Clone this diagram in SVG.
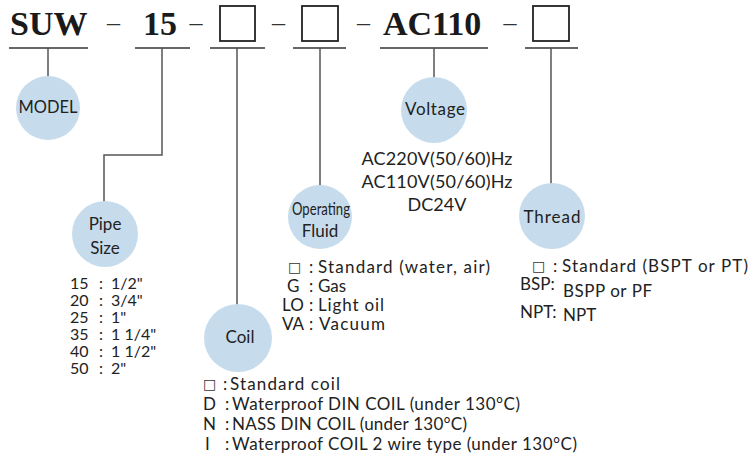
<svg xmlns="http://www.w3.org/2000/svg" width="752" height="460" viewBox="0 0 752 460">
  <style>
    .hd { font-family: "Liberation Serif", serif; font-weight: bold; font-size: 34px; fill: #1a1a1a; }
    .dash { font-family: "Liberation Serif", serif; font-size: 26px; fill: #333; text-anchor: middle; }
    .box { fill: #fff; stroke: #222; stroke-width: 1.8; }
    .ul { stroke: #333; stroke-width: 1.3; fill: none; }
    .bub { fill: #c6dcec; }
    .lb { font-family: Lato, "DejaVu Sans", sans-serif; font-size: 17px; fill: #222; text-anchor: middle; }
    .tx { font-family: Lato, "DejaVu Sans", sans-serif; font-size: 17px; fill: #222; }
    .px { font-family: Lato, "DejaVu Sans", sans-serif; font-size: 16px; fill: #222; }
    .vt { font-family: Lato, "DejaVu Sans", sans-serif; font-size: 18px; fill: #222; text-anchor: middle; }
    .sq { font-family: "DejaVu Sans", sans-serif; font-size: 14px; fill: #333; }
    .conn { stroke: #555; stroke-width: 1.5; fill: none; }
  </style>

  <g id="header">
    <text class="hd" x="10" y="35">SUW</text>
    <text class="dash" x="113.5" y="31">–</text>
    <text class="hd" x="143" y="35">15</text>
    <text class="dash" x="196" y="31">–</text>
    <rect class="box" x="220" y="6" width="35" height="35"/>
    <text class="dash" x="278.5" y="31">–</text>
    <rect class="box" x="302" y="6" width="36" height="35"/>
    <text class="dash" x="363.5" y="31">–</text>
    <text class="hd" x="383" y="35">AC110</text>
    <text class="dash" x="510" y="31">–</text>
    <rect class="box" x="533" y="6" width="36" height="35"/>
    <line class="ul" x1="9" y1="48" x2="88" y2="48"/>
    <line class="ul" x1="135" y1="48" x2="190" y2="48"/>
    <line class="ul" x1="210" y1="48" x2="265" y2="48"/>
    <line class="ul" x1="293" y1="48" x2="346" y2="48"/>
    <line class="ul" x1="380" y1="48" x2="488" y2="48"/>
    <line class="ul" x1="525" y1="48" x2="578" y2="48"/>
  </g>

  <g id="connectors">
    <path class="conn" d="M48 48 V77"/>
    <path class="conn" d="M162 48 V155 H104 V202" stroke="#222"/>
    <path class="conn" d="M237 48 V305"/>
    <path class="conn" d="M320 48 V186"/>
    <path class="conn" d="M434 48 V78"/>
    <path class="conn" d="M551 48 V184"/>
  </g>

  <g id="model">
    <circle class="bub" cx="48" cy="108" r="32"/>
    <text class="lb" x="48" y="113" font-size="15" textLength="59" lengthAdjust="spacingAndGlyphs">MODEL</text>
  </g>

  <g id="pipe-size">
    <circle class="bub" cx="105" cy="234" r="33"/>
    <text class="lb" x="105" y="230">Pipe</text>
    <text class="lb" x="105" y="254">Size</text>
    <text class="px">
      <tspan x="70" y="289">15</tspan><tspan x="99">:</tspan><tspan x="111">1/2"</tspan>
      <tspan x="70" y="306">20</tspan><tspan x="99">:</tspan><tspan x="111">3/4"</tspan>
      <tspan x="70" y="323">25</tspan><tspan x="99">:</tspan><tspan x="111">1"</tspan>
      <tspan x="70" y="340">35</tspan><tspan x="99">:</tspan><tspan x="111">1 1/4"</tspan>
      <tspan x="70" y="357">40</tspan><tspan x="99">:</tspan><tspan x="111">1 1/2"</tspan>
      <tspan x="70" y="374">50</tspan><tspan x="99">:</tspan><tspan x="111">2"</tspan>
    </text>
  </g>

  <g id="coil">
    <circle class="bub" cx="238" cy="338" r="34"/>
    <text class="lb" x="240" y="343">Coil</text>
    <text class="sq" x="203" y="389">□</text><text class="tx" x="223" y="390">:</text>
    <text class="tx" x="230" y="390" textLength="110">Standard coil</text>
    <text class="tx" x="203" y="410">D</text><text class="tx" x="225" y="410">:</text>
    <text class="tx" x="232" y="410" textLength="288">Waterproof  DIN COIL (under 130°C)</text>
    <text class="tx" x="203" y="430">N</text><text class="tx" x="225" y="430">:</text>
    <text class="tx" x="232" y="430" textLength="235">NASS DIN COIL (under 130°C)</text>
    <text class="tx" x="205" y="450">I</text><text class="tx" x="225" y="450">:</text>
    <text class="tx" x="232" y="450" textLength="345">Waterproof COIL 2 wire type (under 130°C)</text>
  </g>

  <g id="operating-fluid">
    <circle class="bub" cx="320" cy="217" r="32"/>
    <text class="lb" x="321" y="215" font-size="14" textLength="58" lengthAdjust="spacingAndGlyphs">Operating</text>
    <text class="lb" x="320" y="237" font-size="14">Fluid</text>
    <text class="sq" x="288" y="272">□</text><text class="tx" x="309" y="273">:</text>
    <text class="tx" x="318" y="273" textLength="172">Standard (water, air)</text>
    <text class="tx" x="287" y="292">G</text><text class="tx" x="309" y="292">:</text>
    <text class="tx" x="318" y="292">Gas</text>
    <text class="tx" x="282" y="311">LO</text><text class="tx" x="309" y="311">:</text>
    <text class="tx" x="318" y="311" textLength="66">Light oil</text>
    <text class="tx" x="282" y="330">VA</text><text class="tx" x="309" y="330">:</text>
    <text class="tx" x="319" y="330" textLength="66">Vacuum</text>
  </g>

  <g id="voltage">
    <circle class="bub" cx="434" cy="110" r="33"/>
    <text class="lb" x="435" y="115" textLength="60">Voltage</text>
    <text class="vt" x="437" y="165" textLength="151">AC220V(50/60)Hz</text>
    <text class="vt" x="437" y="188" textLength="151">AC110V(50/60)Hz</text>
    <text class="vt" x="437" y="211">DC24V</text>
  </g>

  <g id="thread">
    <circle class="bub" cx="552" cy="216" r="33"/>
    <text class="lb" x="552" y="223" textLength="57">Thread</text>
    <text class="sq" x="532" y="271">□</text><text class="tx" x="553" y="272">:</text>
    <text class="tx" x="562" y="272" textLength="186">Standard (BSPT or PT)</text>
    <text class="tx" x="520" y="290">BSP:</text>
    <text class="tx" x="563" y="297" textLength="89">BSPP or PF</text>
    <text class="tx" x="520" y="318">NPT:</text>
    <text class="tx" x="563" y="321">NPT</text>
  </g>
</svg>
